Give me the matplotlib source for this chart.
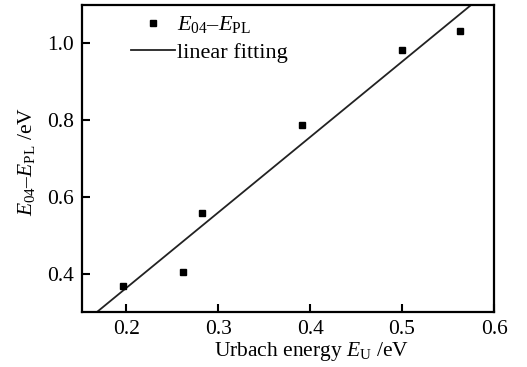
import numpy as np
import matplotlib
matplotlib.use('Agg')
import matplotlib.pyplot as plt

plt.rcParams['font.family'] = 'Liberation Serif'
plt.rcParams['mathtext.fontset'] = 'custom'
plt.rcParams['mathtext.rm'] = 'Liberation Serif'
plt.rcParams['mathtext.it'] = 'Liberation Serif:italic'
plt.rcParams['axes.unicode_minus'] = False

# Urbach energy vs E04-EPL
urbach_energy = [0.197, 0.262, 0.282, 0.391, 0.500, 0.563]
e04_minus_epl = [0.367, 0.405, 0.558, 0.787, 0.983, 1.031]
x_ticks = [0.2, 0.3, 0.4, 0.5, 0.6]
y_ticks = [0.4, 0.6, 0.8, 1.0]

fig = plt.figure(figsize=(5.27, 3.67), dpi=100)
ax = fig.add_axes([0.1556, 0.1499, 0.7818, 0.8365])

# linear fit of the points
k, b = np.polyfit(urbach_energy, e04_minus_epl, 1)
xf = np.array([0.1, 0.7])
ax.plot(xf, k * xf + b, color='#222222', lw=1.3, label='linear fitting')
ax.plot(urbach_energy, e04_minus_epl, 's', color='black', ms=5,
        label=r'$E_{\mathrm{04}}$–$E_{\mathrm{PL}}$')

ax.set_xlim(0.152, 0.6)
ax.set_ylim(0.3, 1.1)
ax.set_xticks(x_ticks)
ax.set_yticks(y_ticks)
ax.set_xticklabels(['0.2', '0.3', '0.4', '0.5', '0.6'])
ax.set_yticklabels(['0.4', '0.6', '0.8', '1.0'])
ax.tick_params(direction='in', length=6, width=1.5, labelsize=15.5, pad=6)
for s in ax.spines.values():
    s.set_linewidth(1.6)

ax.set_xlabel(r'Urbach energy $E_{\mathrm{U}}$ /eV', fontsize=15.5)
ax.xaxis.set_label_coords(0.558, -0.09)
ax.set_ylabel(r'$E_{\mathrm{04}}$–$E_{\mathrm{PL}}$ /eV', fontsize=15.5)
ax.yaxis.set_label_coords(-0.11, 0.49)

h, l = ax.get_legend_handles_labels()
ax.legend(h[::-1], l[::-1], loc='upper left', bbox_to_anchor=(0.08, 1.02),
          frameon=False, fontsize=16, handlelength=2.0, handletextpad=0.1,
          labelspacing=0.3, borderaxespad=0.3)

fig.savefig('out.png', dpi=100)
